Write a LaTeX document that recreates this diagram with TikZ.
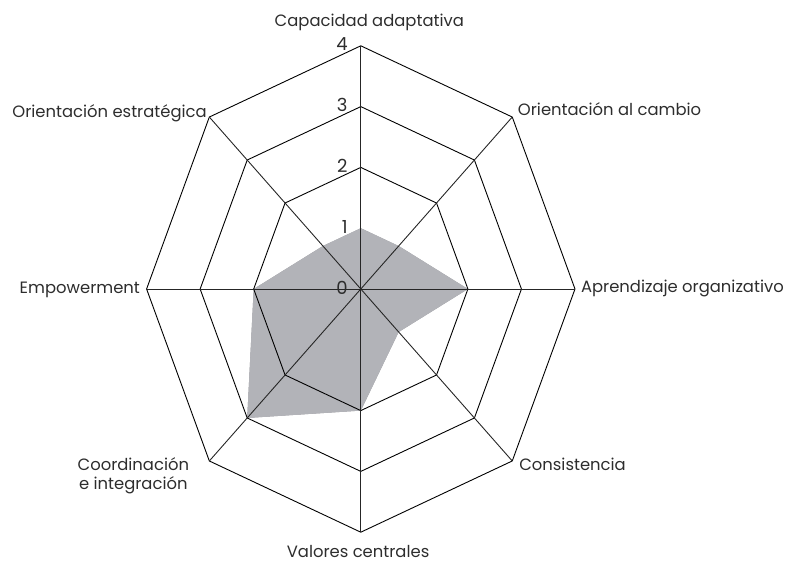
\documentclass[tikz,border=0pt]{standalone}
\usepackage{fontspec}
\setmainfont{Poppins}
\usepackage{tikz}
\usetikzlibrary{calc, positioning}
\definecolor{MyGray}{RGB}{178,179,184}
\definecolor{MyShadow}{RGB}{148,148,152}
\definecolor{MyText}{RGB}{45,45,45}
\tikzstyle{web} = [draw=black, line width=0.9pt, line join=miter]
\tikzstyle{spoke} = [draw=black!85, line width=0.9pt]
\tikzstyle{score} = [fill=MyGray, draw=none]
\tikzstyle{shadow} = [fill=MyShadow, draw=none]
\tikzstyle{axislabel} = [font=\fontsize{16.4}{18.5}\selectfont, text=MyText, inner sep=0pt, outer sep=0pt]
\tikzstyle{tick} = [font=\fontsize{18}{20}\selectfont, text=MyText, inner sep=0pt, anchor=base east]

\begin{document}
\begin{tikzpicture}[x=53.55pt, y=60.8pt]
	\useasboundingbox (-360.8pt,-274pt) rectangle (429.2pt,289pt);
	% vertices of the outer ring and the score polygon
	\foreach \a [count=\i from 0] in {90,45,0,-45,-90,-135,180,135} {
		\coordinate (v\i) at (\a:4);
	}
	\coordinate (O) at (0,0);
	\coordinate (s0) at (90:1);
	\coordinate (s1) at (45:1);
	\coordinate (s2) at (0:2);
	\coordinate (s3) at (-45:1);
	\coordinate (s4) at (-90:2);
	\coordinate (s5) at (-135:3);
	\coordinate (s6) at (180:2);
	\coordinate (s7) at (135:1);

	% SCORE
	\fill [shadow, xshift=2pt, yshift=-3pt] (s0) -- (s1) -- (s2) -- (s3) -- (s4) -- (s5) -- (s6) -- (s7) -- cycle;
	\fill [score] (s0) -- (s1) -- (s2) -- (s3) -- (s4) -- (s5) -- (s6) -- (s7) -- cycle;

	% RINGS
	\foreach \r in {2,3,4} {
		\draw [web] (90:\r) -- (45:\r) -- (0:\r) -- (-45:\r) -- (-90:\r) -- (-135:\r) -- (180:\r) -- (135:\r) -- cycle;
	}
	\foreach \i in {0,...,7} {
		\draw [spoke] (O) -- (v\i);
	}

	% ticks
	\foreach \r in {0,1,2,3,4} {
		\node (t\r) [tick] at ($(90:\r)+(-13pt,-5pt)$) {\r};
	}

	% labels
	\node (cap) [axislabel, anchor=base] at ($(v0)+(8.5pt,19pt)$) {Capacidad adaptativa};
	\node (cambio) [axislabel, anchor=base west] at ($(v1)+(5.7pt,1.7pt)$) {Orientación al cambio};
	\node (aprend) [axislabel, anchor=base west] at ($(v2)+(6pt,-3.6pt)$) {Aprendizaje organizativo};
	\node (consist) [axislabel, anchor=base west] at ($(v3)+(7pt,-10pt)$) {Consistencia};
	\node (valores) [axislabel, anchor=base] at ($(v4)+(-2.7pt,-25.5pt)$) {Valores centrales};
	\node (coord) [axislabel, anchor=north, align=center] at ($(v5)+(-76pt,3pt)$) {Coordinación\\e integración};
	\node (empow) [axislabel, anchor=base east] at ($(v6)+(-6.7pt,-4.3pt)$) {Empowerment};
	\node (estrat) [axislabel, anchor=base east] at ($(v7)+(-2.6pt,-0.6pt)$) {Orientación estratégica};
\end{tikzpicture}
\end{document}
